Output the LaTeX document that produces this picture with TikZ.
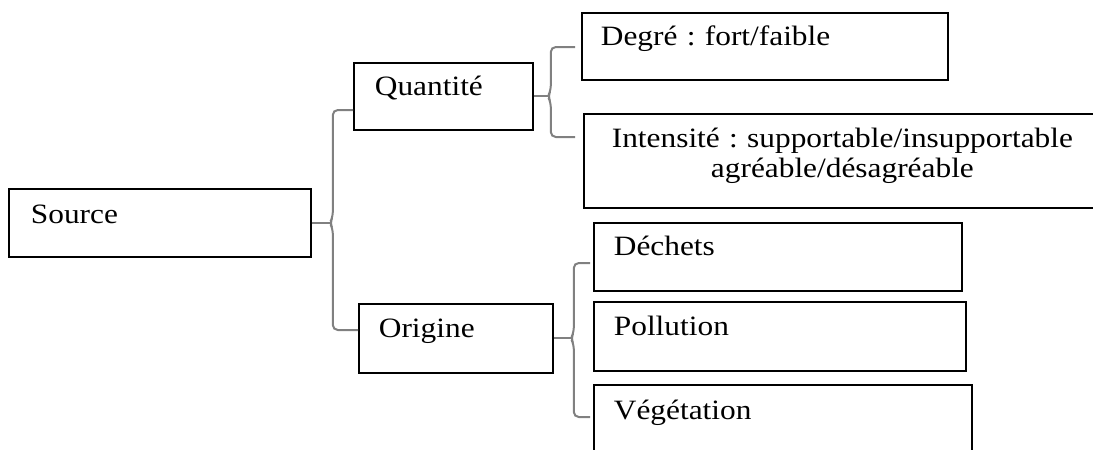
\documentclass[tikz,border=0pt]{standalone}
\usepackage{fontspec}
\setmainfont{Liberation Serif}[FakeStretch=1.12]
\usetikzlibrary{calc}
\frenchspacing

\begin{document}
\begin{tikzpicture}[x=0.5pt,y=-0.5pt]
	\tikzstyle{mybox} = 
	[draw = black,
	line width = 0.9pt,
	rectangle,
	anchor = north west,
	inner ysep = 0pt,
	align = left,
	font = \fontsize{14}{15}\selectfont
	]
	\tikzstyle{mybrace} = 
	[draw = {rgb:black,1;white,1},
	line width = 1pt,
	rounded corners = 2.5pt
	]

	\useasboundingbox (0,0) rectangle (1093,450);

	% level 1
	\node[mybox, inner xsep=11pt, text width=129pt,
		text height=17.5pt, text depth=16.5pt] (src) at (8,188) {Source};

	% level 2
	\node[mybox, inner xsep=10.5pt, text width=68.5pt,
		text height=16.5pt, text depth=17pt] (qty) at (353,62) {Quantité};
	\node[mybox, inner xsep=10pt, text width=77pt,
		text height=17pt, text depth=17.5pt] (org) at (358,303) {Origine};

	% level 3
	\node[mybox, inner xsep=9.5pt, text width=164pt,
		text height=16.5pt, text depth=17pt] (deg) at (581,12) {Degré : fort/faible};
	\node[mybox, inner xsep=1pt, text width=256.5pt, align=center,
		text height=17pt, text depth=30pt] (int) at (583,113)
		{Intensité : supportable/insupportable\\agréable/désagréable};
	\node[mybox, inner xsep=10pt, text width=164pt,
		text height=16.5pt, text depth=17.5pt] (dech) at (593,222) {Déchets};
	\node[mybox, inner xsep=10pt, text width=166pt,
		text height=17pt, text depth=17.5pt] (poll) at (593,301) {Pollution};
	\node[mybox, inner xsep=10pt, text width=169pt,
		text height=17.5pt, text depth=20pt] (veg) at (593,384) {Végétation};

	% braces
	\coordinate (b1) at ($(src.east)+(21,0)$);
	\coordinate (b2) at ($(qty.east)+(17,0)$);
	\coordinate (b3) at ($(org.east)+(20,0)$);

	\draw[mybrace] (src.east) -- ($(b1)+(-3,0)$);
	\draw[mybrace] ($(qty.north west)+(0,48)$) -| ($(b1)+(0,-6)$)
		-- ($(b1)+(-3,0)$) -- ($(b1)+(0,6)$) |- ($(org.north west)+(0,27)$);

	\draw[mybrace] (qty.east) -- ($(b2)+(-3,0)$);
	\draw[mybrace] ($(deg.north west)+(-6,35)$) -| ($(b2)+(0,-6)$)
		-- ($(b2)+(-3,0)$) -- ($(b2)+(0,6)$) |- ($(int.north west)+(-8,24)$);

	\draw[mybrace] (org.east) -- ($(b3)+(-3,0)$);
	\draw[mybrace] ($(dech.north west)+(-3,41)$) -| ($(b3)+(0,-6)$)
		-- ($(b3)+(-3,0)$) -- ($(b3)+(0,6)$) |- ($(veg.north west)+(-3,33)$);
\end{tikzpicture}
\end{document}
